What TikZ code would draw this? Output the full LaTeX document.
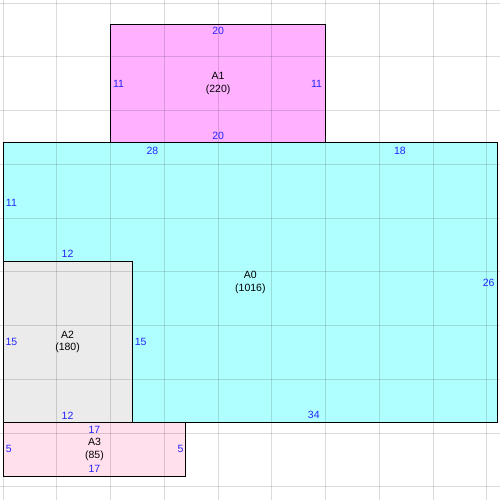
\documentclass[tikz,border=0pt]{standalone}
\usepackage{fontspec}
\setmainfont{Liberation Sans}
\definecolor{cA0}{HTML}{B0FFFF}
\definecolor{cA1}{HTML}{FFB0FF}
\definecolor{cA2}{HTML}{EBEBEB}
\definecolor{cA3}{HTML}{FFE0EC}
\definecolor{lbl}{HTML}{2222FF}
\begin{document}
\begin{tikzpicture}[x=10.756pt,y=-10.756pt,
  gridline/.style={black,opacity=0.14,line width=1pt},
  border/.style={black,line width=1pt},
  len/.style={text=lbl,inner sep=0pt,font=\fontsize{10.5}{12}\selectfont},
  areaname/.style={text=black,inner sep=0pt,align=center,font=\fontsize{10.5}{12.5}\selectfont}]
\useasboundingbox (-0.279,-0.279) rectangle (46.21,46.21);
\fill[white] (-0.279,-0.279) rectangle (46.21,46.21);
% fills
\fill[cA1] (10,2) rectangle (30,13);
\fill[cA0] (0,13) rectangle (46,39);
\fill[cA2] (0,24) rectangle (12,39);
\fill[cA3] (0,39) rectangle (17,44);
% grid
\foreach \v in {0,5,...,45}{
  \draw[gridline] (\v,-0.279) -- (\v,46.21);
  \draw[gridline] (-0.279,\v) -- (46.21,\v);
}
% borders
\draw[border] (10,2) rectangle (30,13);
\draw[border] (0,13) rectangle (46,39);
\draw[border] (0,24) rectangle (12,39);
\draw[border] (0,39) rectangle (17,44);
% A1
\node[areaname] (nA1) at (20,7.5) {A1\\(220)};
\node[len] (a1t) at (20,2.6) {20};
\node[len] (a1b) at (20,12.4) {20};
\node[len] (a1l) at (10.75,7.5) {11};
\node[len] (a1r) at (29.15,7.5) {11};
% A0
\node[areaname] (nA0) at (23,26) {A0\\(1016)};
\node[len] (a0t1) at (13.9,13.75) {28};
\node[len] (a0t2) at (36.9,13.75) {18};
\node[len] (a0l) at (0.78,18.6) {11};
\node[len] (a0m) at (6,23.3) {12};
\node[len] (a0r) at (45.15,26) {26};
\node[len] (a0b) at (28.9,38.3) {34};
\node[len] (a0s) at (12.8,31.5) {15};
% A2
\node[areaname] (nA2) at (6,31.5) {A2\\(180)};
\node[len] (a2l) at (0.78,31.5) {15};
\node[len] (a2b) at (6,38.4) {12};
% A3
\node[areaname] (nA3) at (8.5,41.5) {A3\\(85)};
\node[len] (a3t) at (8.5,39.65) {17};
\node[len] (a3b) at (8.5,43.35) {17};
\node[len] (a3l) at (0.55,41.5) {5};
\node[len] (a3r) at (16.5,41.5) {5};
\end{tikzpicture}
\end{document}
